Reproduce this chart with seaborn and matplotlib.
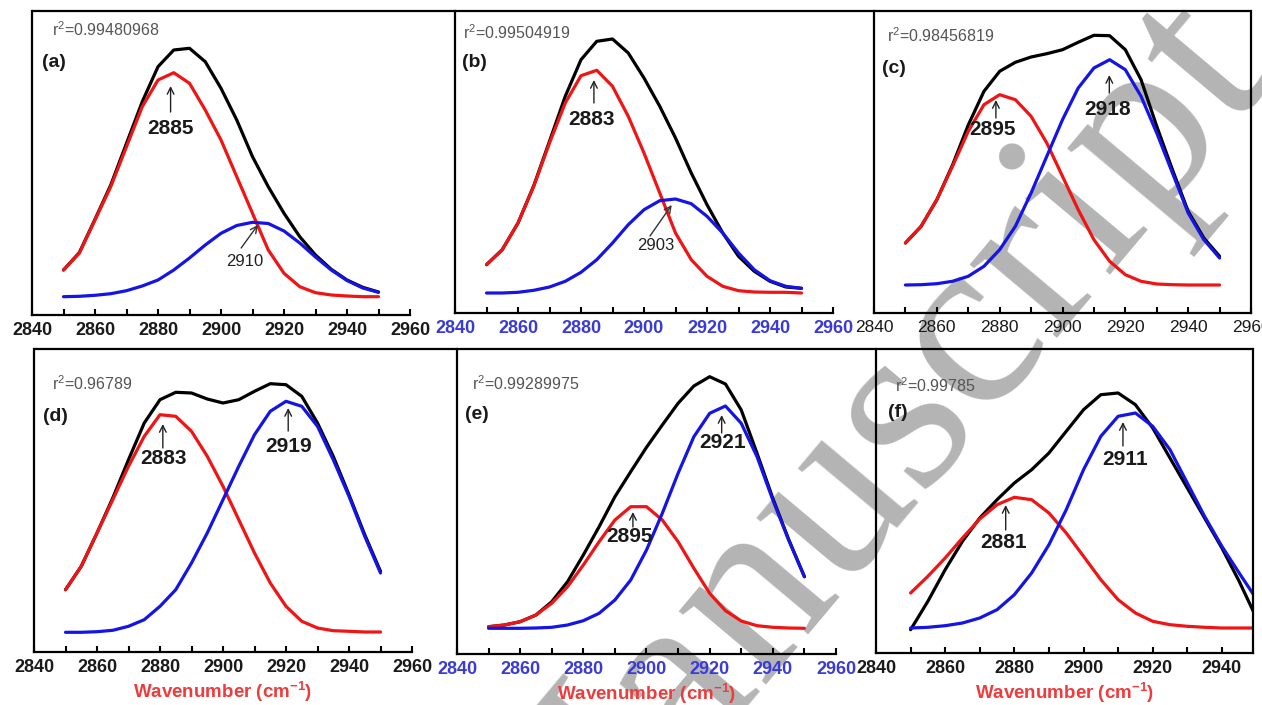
import numpy as np
import pandas as pd
import matplotlib
matplotlib.use("Agg")
import matplotlib.pyplot as plt
from matplotlib.lines import Line2D
from matplotlib.ticker import MultipleLocator
import seaborn as sns

# ---------------- data ----------------
wavenumber = [2850, 2855, 2860, 2865, 2870, 2875, 2880, 2885, 2890, 2895, 2900,
              2905, 2910, 2915, 2920, 2925, 2930, 2935, 2940, 2945, 2950]

a_total = [45.0, 62.3, 95.7, 130.0, 171.7, 213.3, 248.3, 265.0, 266.7, 253.3, 226.7,
           195.0, 158.3, 128.3, 101.7, 78.3, 60.0, 45.7, 35.0, 27.7, 23.0]
a_peak1 = [45.0, 61.7, 95.0, 128.3, 168.3, 208.3, 235.0, 242.3, 231.7, 205.0, 175.0,
           138.3, 101.7, 65.0, 41.7, 28.3, 22.3, 20.0, 19.0, 18.3, 18.3]
a_peak2 = [18.3, 18.7, 19.7, 21.3, 24.3, 29.0, 35.0, 45.0, 57.0, 70.0, 81.7,
           89.5, 92.7, 91.5, 84.0, 72.0, 58.0, 45.0, 34.5, 27.0, 22.7]

b_total = [48.3, 63.3, 90.0, 127.3, 171.7, 216.7, 253.3, 271.7, 274.0, 260.0, 235.0,
           206.7, 175.0, 140.0, 108.3, 80.0, 56.7, 41.7, 31.7, 26.0, 24.7]
b_peak1 = [48.3, 63.3, 90.0, 126.7, 170.0, 210.0, 237.3, 242.7, 226.7, 196.7, 160.0,
           120.0, 80.0, 53.3, 36.7, 26.7, 22.3, 21.0, 20.7, 20.7, 20.0]
b_peak2 = [20.0, 20.0, 20.7, 22.7, 26.0, 31.7, 40.7, 53.3, 70.0, 88.3, 103.3,
           112.3, 114.0, 109.3, 96.7, 80.0, 60.0, 43.3, 32.3, 26.7, 24.7]

c_total = [70.0, 86.7, 113.3, 148.0, 188.0, 221.7, 241.7, 250.7, 256.0, 259.3, 263.3,
           270.7, 277.7, 277.3, 263.3, 233.3, 186.7, 143.3, 101.7, 75.0, 56.7]
c_peak1 = [70.0, 86.7, 113.3, 146.7, 181.7, 208.3, 218.3, 213.3, 196.7, 170.0, 136.7,
           103.3, 73.3, 51.7, 38.3, 31.7, 29.0, 28.3, 28.0, 28.0, 28.0]
c_peak2 = [28.0, 28.3, 29.3, 31.7, 36.7, 46.7, 63.3, 86.7, 120.0, 156.7, 193.3,
           225.0, 245.0, 253.3, 243.3, 216.7, 180.0, 140.0, 100.0, 73.3, 55.0]

d_total = [62.3, 85.7, 119.0, 154.0, 192.3, 229.0, 252.3, 259.7, 259.0, 253.0, 249.0,
           252.3, 260.7, 268.3, 267.3, 255.7, 229.0, 195.7, 157.3, 117.3, 80.7]
d_peak1 = [62.3, 85.7, 119.0, 152.3, 185.7, 215.7, 237.3, 235.7, 220.7, 195.7, 165.7,
           132.3, 99.0, 69.0, 45.7, 30.7, 24.0, 21.3, 20.7, 20.0, 20.0]
d_peak2 = [19.7, 19.7, 20.3, 21.7, 25.7, 32.3, 45.7, 62.3, 89.0, 119.0, 152.3,
           185.7, 217.3, 240.7, 250.7, 245.7, 225.7, 192.3, 155.7, 115.7, 79.0]

e_total = [27.3, 29.0, 32.3, 39.0, 52.3, 72.3, 99.0, 127.3, 157.3, 182.3, 206.7,
           229.0, 250.7, 268.0, 277.3, 270.0, 244.0, 200.7, 155.7, 114.7, 77.3]
e_peak1 = [27.3, 29.0, 32.3, 39.0, 50.7, 67.3, 89.0, 112.3, 134.0, 147.3, 147.3,
           134.0, 112.3, 85.7, 60.7, 43.3, 33.0, 28.3, 26.7, 26.0, 25.7]
e_peak2 = [25.7, 25.7, 25.7, 26.0, 26.7, 29.0, 33.3, 40.7, 54.0, 74.0, 104.0,
           140.7, 180.7, 217.3, 240.7, 248.0, 230.7, 197.3, 154.0, 114.0, 77.3]

f_total = [23.3, 51.7, 83.3, 111.7, 135.0, 153.3, 170.0, 183.3, 200.0, 221.7, 243.3,
           258.3, 260.0, 248.3, 225.0, 195.0, 165.0, 135.0, 105.0, 71.7, 35.0]
f_peak1 = [60.0, 76.7, 95.0, 115.0, 134.0, 148.3, 155.7, 153.3, 140.0, 120.0, 96.7,
           73.3, 53.3, 40.0, 31.7, 28.3, 26.7, 25.7, 25.0, 25.0, 25.0]
f_peak2 = [25.0, 25.7, 27.3, 30.0, 35.0, 43.3, 58.3, 80.0, 108.3, 143.3, 183.3,
           216.7, 236.7, 240.0, 226.7, 203.3, 170.0, 136.7, 106.7, 80.0, 54.0]

panel_tags = ["(a)", "(b)", "(c)", "(d)", "(e)", "(f)"]
r2_values = ["0.99480968", "0.99504919", "0.98456819", "0.96789", "0.99289975", "0.99785"]
peak1_labels = ["2885", "2883", "2895", "2883", "2895", "2881"]
peak2_labels = ["2910", "2903", "2918", "2919", "2921", "2911"]
x_ticks = [2840, 2860, 2880, 2900, 2920, 2940, 2960]
x_label = "Wavenumber (cm$^{\\mathbf{-1}}$)"
watermark = "Manuscript"

series = {
    "a": (a_total, a_peak1, a_peak2),
    "b": (b_total, b_peak1, b_peak2),
    "c": (c_total, c_peak1, c_peak2),
    "d": (d_total, d_peak1, d_peak2),
    "e": (e_total, e_peak1, e_peak2),
    "f": (f_total, f_peak1, f_peak2),
}

# ---------------- style ----------------
sns.set_theme(style="white")
plt.rcParams["font.family"] = ["Liberation Sans", "DejaVu Sans"]
plt.rcParams["mathtext.fontset"] = "custom"
plt.rcParams["mathtext.rm"] = "Liberation Sans"
plt.rcParams["mathtext.bf"] = "Liberation Sans:bold"
plt.rcParams["mathtext.it"] = "Liberation Sans:italic"

W, H = 1262, 705
fig = plt.figure(figsize=(W / 100, H / 100), dpi=100)
fig.patch.set_facecolor("white")

RED = "#f01414"
BLUE = "#1414e6"
LBLUE = "#3a3ad8"
LABEL_RED = "#ee3b3b"

# panel geometry in pixels: left, right, bottom, top, xmax, right spine, tick colour, bold ticks
geo = {
    "a": (32, 410, 315, 11, 2960, False, "#1a1a1a", True),
    "b": (455, 833, 313, 11, 2960, False, LBLUE, True),
    "c": (874, 1251, 313, 11, 2960, True, "#1a1a1a", False),
    "d": (34, 412, 652, 349, 2960, False, "#1a1a1a", True),
    "e": (457, 836, 654, 349, 2960, False, LBLUE, True),
    "f": (876, 1253, 653, 349, 2949, True, "#1a1a1a", True),
}

# annotation layout (data x, height): label pos, arrow tail, arrow tip
ann1 = {
    "a": ((2884, 187), (2884, 203), (2884, 229)),
    "b": ((2883.4, 193), (2884.1, 210), (2884.1, 233)),
    "c": ((2877.8, 183), (2878.8, 195), (2878.8, 213)),
    "d": ((2881, 193), (2880.9, 204), (2880.9, 228)),
    "e": ((2894.6, 117), (2895.7, 127), (2895.7, 142)),
    "f": ((2876.8, 110), (2877.5, 123), (2877.5, 148)),
}
ann2 = {
    "c": ((2914.5, 203), (2914.9, 220), (2914.9, 238)),
    "d": ((2920.7, 205), (2920.7, 221), (2920.7, 244)),
    "e": ((2924.2, 211), (2923.8, 221), (2923.8, 239)),
    "f": ((2912.0, 193), (2911.4, 207), (2911.4, 231)),
}
ann2_small = {
    "a": ((2907.6, 53), (2906.4, 67), (2911.7, 90)),
    "b": ((2903.8, 67), (2901.9, 77), (2908.8, 108)),
}
text_pos = {
    "a": ((0.053, 0.94), (0.026, 0.83)),
    "b": ((0.021, 0.927), (0.019, 0.83)),
    "c": ((0.034, 0.92), (0.021, 0.81)),
    "d": ((0.048, 0.885), (0.024, 0.776)),
    "e": ((0.040, 0.885), (0.021, 0.784)),
    "f": ((0.050, 0.88), (0.032, 0.79)),
}

# watermark drawn behind transparent axes
fig.text(911 / W, 1 - 504 / H, watermark, rotation=50, rotation_mode="anchor",
         ha="center", va="baseline", fontsize=178, family="Liberation Serif",
         color="#b4b4b4", zorder=-5)

for i, key in enumerate(["a", "b", "c", "d", "e", "f"]):
    l, r, b, t, xmax, rspine, tcol, tbold = geo[key]
    ax = fig.add_axes([l / W, 1 - b / H, (r - l) / W, (b - t) / H])
    ax.set_facecolor("none")
    ax.patch.set_alpha(0)
    total, p1, p2 = series[key]
    df = pd.DataFrame({"x": wavenumber, "total": total, "p1": p1, "p2": p2})
    sns.lineplot(data=df, x="x", y="total", ax=ax, color="black", lw=2.3, sort=False)
    sns.lineplot(data=df, x="x", y="p1", ax=ax, color=RED, lw=2.3, sort=False)
    sns.lineplot(data=df, x="x", y="p2", ax=ax, color=BLUE, lw=2.3, sort=False)
    for ln in ax.get_lines():
        ln.set_solid_joinstyle("round")
        ln.set_solid_capstyle("round")
    ax.set_xlim(2840, xmax)
    ax.set_ylim(0, b - t)
    ax.set_xlabel("")
    ax.set_ylabel("")
    ax.set_yticks([])
    ax.set_xticks([v for v in x_ticks if v <= xmax])
    ax.xaxis.set_minor_locator(MultipleLocator(10))
    ax.tick_params(axis="x", which="both", direction="in", length=4, width=1.5,
                   bottom=True, colors="black", pad=5)
    for lab in ax.get_xticklabels():
        lab.set_color(tcol)
        lab.set_fontsize(13 if tbold else 12.5)
        lab.set_fontweight("bold" if tbold else "normal")
    for s in ["left", "bottom"]:
        ax.spines[s].set_visible(True)
        ax.spines[s].set_color("black")
        ax.spines[s].set_linewidth(1.6)
    ax.spines["top"].set_visible(False)
    ax.spines["right"].set_visible(rspine)
    ax.spines["right"].set_color("black")
    ax.spines["right"].set_linewidth(1.6)

    (rx, ry), (tx, ty) = text_pos[key]
    ax.text(rx, ry, "r$^{2}$=" + r2_values[i], transform=ax.transAxes, fontsize=11.5,
            color="#555555", ha="left", va="center")
    ax.text(tx, ty, panel_tags[i], transform=ax.transAxes, fontsize=14,
            fontweight="bold", color="#1a1a1a", ha="left", va="center")

    (lx, ly), tail, tip = ann1[key]
    ax.annotate("", xy=tip, xytext=tail,
                arrowprops=dict(arrowstyle="->", lw=1.0, color="#222222",
                                shrinkA=0, shrinkB=0))
    ax.text(lx, ly, peak1_labels[i], fontsize=15, fontweight="bold", color="#1a1a1a",
            ha="center", va="center")
    if key in ann2:
        (lx, ly), tail, tip = ann2[key]
        ax.annotate("", xy=tip, xytext=tail,
                    arrowprops=dict(arrowstyle="->", lw=1.0, color="#222222",
                                    shrinkA=0, shrinkB=0))
        ax.text(lx, ly, peak2_labels[i], fontsize=15, fontweight="bold", color="#1a1a1a",
                ha="center", va="center")
    else:
        (lx, ly), tail, tip = ann2_small[key]
        ax.annotate("", xy=tip, xytext=tail,
                    arrowprops=dict(arrowstyle="->", lw=1.0, color="#333333",
                                    shrinkA=0, shrinkB=0))
        ax.text(lx, ly, peak2_labels[i], fontsize=12, color="#222222",
                ha="center", va="center")

    if key in ("d", "e", "f"):
        ax.set_xlabel(x_label, color=LABEL_RED, fontsize=13.5, fontweight="bold",
                      labelpad=3)

# continuous top borders of both rows
fig.add_artist(Line2D([32 / W, 1251 / W], [1 - 11 / H, 1 - 11 / H],
                      transform=fig.transFigure, color="black", lw=1.6))
fig.add_artist(Line2D([34 / W, 1253 / W], [1 - 349 / H, 1 - 349 / H],
                      transform=fig.transFigure, color="black", lw=1.6))

fig.savefig("out.png", dpi=100, facecolor="white")
